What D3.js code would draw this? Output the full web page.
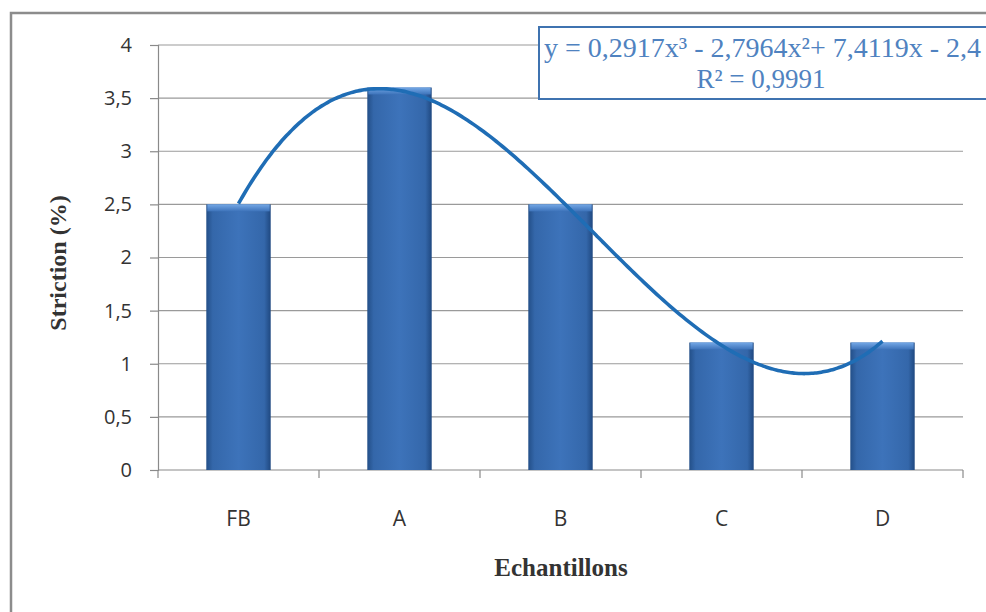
<!DOCTYPE html>
<html>
<head>
<meta charset="utf-8">
<script src="https://cdn.jsdelivr.net/npm/d3@7"></script>
<style>
  html, body { margin: 0; padding: 0; background: #fff; }
  svg { display: block; }
</style>
</head>
<body>
<svg id="chart" width="986" height="612"></svg>
<script>
// Samples and their striction values (%)
const categories = ["FB", "A", "B", "C", "D"];
const striction = [2.5, 3.6, 2.5, 1.2, 1.2];
const yTicks = [0, 0.5, 1, 1.5, 2, 2.5, 3, 3.5, 4];
// Polynomial trend (order 3) as shown in its label
const trendCoefs = [0.2917, -2.7964, 7.4119, -2.4]; // x^3, x^2, x, 1
const trendLabel = "y = 0,2917x³ - 2,7964x²+ 7,4119x - 2,4";
const r2Label = "R² = 0,9991";

const svg = d3.select("#chart");
const W = 986, H = 612;
const plot = { left: 158, right: 963, top: 45, bottom: 470 };
const serif = "'Liberation Serif', 'Times New Roman', serif";
const sans = "'Open Sans', sans-serif";

const defs = svg.append("defs");
const grad = defs.append("linearGradient").attr("id", "barGrad")
  .attr("x1", "0").attr("x2", "1").attr("y1", "0").attr("y2", "0");
grad.append("stop").attr("offset", "0%").attr("stop-color", "#234f88");
grad.append("stop").attr("offset", "10%").attr("stop-color", "#3467aa");
grad.append("stop").attr("offset", "50%").attr("stop-color", "#3d73ba");
grad.append("stop").attr("offset", "90%").attr("stop-color", "#3467aa");
grad.append("stop").attr("offset", "100%").attr("stop-color", "#1f4880");
const topGrad = defs.append("linearGradient").attr("id", "topGrad")
  .attr("x1", "0").attr("x2", "0").attr("y1", "0").attr("y2", "1");
topGrad.append("stop").attr("offset", "0%").attr("stop-color", "#74a8e6");
topGrad.append("stop").attr("offset", "100%").attr("stop-color", "#3d73ba");

// Outer chart frame
svg.append("rect").attr("x", 11).attr("y", 13).attr("width", W + 20).attr("height", H + 20)
  .attr("fill", "#fff").attr("stroke", "#8c8c8c").attr("stroke-width", 2.5);

const x = d3.scaleBand().domain(categories).range([plot.left, plot.right]).paddingInner(0.6).paddingOuter(0.3);
const xCat = d3.scaleBand().domain(categories).range([plot.left, plot.right]);
const y = d3.scaleLinear().domain([0, 4]).range([plot.bottom, plot.top]);

// Horizontal gridlines
svg.append("g").selectAll("line").data(yTicks.filter(d => d > 0)).join("line")
  .attr("x1", plot.left).attr("x2", plot.right)
  .attr("y1", d => y(d)).attr("y2", d => y(d))
  .attr("stroke", "#9a9a9a").attr("stroke-width", 1.2);

// Y axis
const yAxis = svg.append("g").attr("transform", `translate(${plot.left},0)`)
  .call(d3.axisLeft(y).tickValues(yTicks).tickSize(8).tickPadding(18)
    .tickFormat(d => String(d).replace(".", ",")));
yAxis.select(".domain").attr("stroke", "#8a8a8a").attr("stroke-width", 1.2);
yAxis.selectAll(".tick line").attr("stroke", "#8a8a8a").attr("stroke-width", 1.2);
yAxis.selectAll("text").attr("font-family", sans).attr("font-size", 20).attr("fill", "#333");

// X axis with ticks between categories
const xAxisG = svg.append("g");
xAxisG.append("line").attr("x1", plot.left).attr("x2", plot.right)
  .attr("y1", plot.bottom).attr("y2", plot.bottom)
  .attr("stroke", "#8a8a8a").attr("stroke-width", 1.2);
const bounds = categories.map(c => xCat(c)).concat([plot.right]);
xAxisG.selectAll("line.tk").data(bounds).join("line").attr("class", "tk")
  .attr("x1", d => d).attr("x2", d => d)
  .attr("y1", plot.bottom).attr("y2", plot.bottom + 8)
  .attr("stroke", "#8a8a8a").attr("stroke-width", 1.2);
xAxisG.selectAll("text").data(categories).join("text")
  .attr("x", d => xCat(d) + xCat.bandwidth() / 2).attr("y", 526)
  .attr("text-anchor", "middle")
  .attr("font-family", sans).attr("font-size", 21).attr("fill", "#333")
  .text(d => d);

// Bars
const bars = svg.append("g").selectAll("g").data(categories).join("g");
bars.append("rect")
  .attr("x", d => x(d)).attr("width", x.bandwidth())
  .attr("y", (d, i) => y(striction[i])).attr("height", (d, i) => plot.bottom - y(striction[i]))
  .attr("fill", "url(#barGrad)");
bars.append("rect")
  .attr("x", d => x(d) + 1).attr("width", x.bandwidth() - 2)
  .attr("y", (d, i) => y(striction[i])).attr("height", 7)
  .attr("fill", "url(#topGrad)");

// Trend curve, x = 1..5 mapped onto category centres
const xPos = d3.scaleLinear().domain([1, categories.length])
  .range([xCat(categories[0]) + xCat.bandwidth() / 2, xCat(categories[categories.length - 1]) + xCat.bandwidth() / 2]);
const poly = t => trendCoefs[0] * t ** 3 + trendCoefs[1] * t ** 2 + trendCoefs[2] * t + trendCoefs[3];
const ts = d3.range(1, 5.0001, 0.02);
svg.append("path").datum(ts)
  .attr("d", d3.line().x(t => xPos(t)).y(t => y(poly(t))).curve(d3.curveBasis))
  .attr("fill", "none").attr("stroke", "#1f6db5").attr("stroke-width", 3.6);

// Equation label box
svg.append("rect").attr("x", 539).attr("y", 27).attr("width", 470).attr("height", 72)
  .attr("fill", "#fff").attr("stroke", "#3f73b0").attr("stroke-width", 2);
svg.append("text").attr("x", 544).attr("y", 57)
  .attr("font-family", serif).attr("font-size", 28)
  .attr("fill", "#4f82c0").text(trendLabel);
svg.append("text").attr("x", 761).attr("y", 88).attr("text-anchor", "middle")
  .attr("font-family", serif).attr("font-size", 27)
  .attr("fill", "#4f82c0").text(r2Label);

// Axis titles
svg.append("text").attr("transform", "translate(66,263) rotate(-90)").attr("text-anchor", "middle")
  .attr("font-family", serif).attr("font-size", 24)
  .attr("font-weight", "bold").attr("fill", "#333").text("Striction (%)");
svg.append("text").attr("x", 561).attr("y", 576).attr("text-anchor", "middle")
  .attr("font-family", serif).attr("font-size", 25)
  .attr("font-weight", "bold").attr("fill", "#333").text("Echantillons");
</script>
</body>
</html>
